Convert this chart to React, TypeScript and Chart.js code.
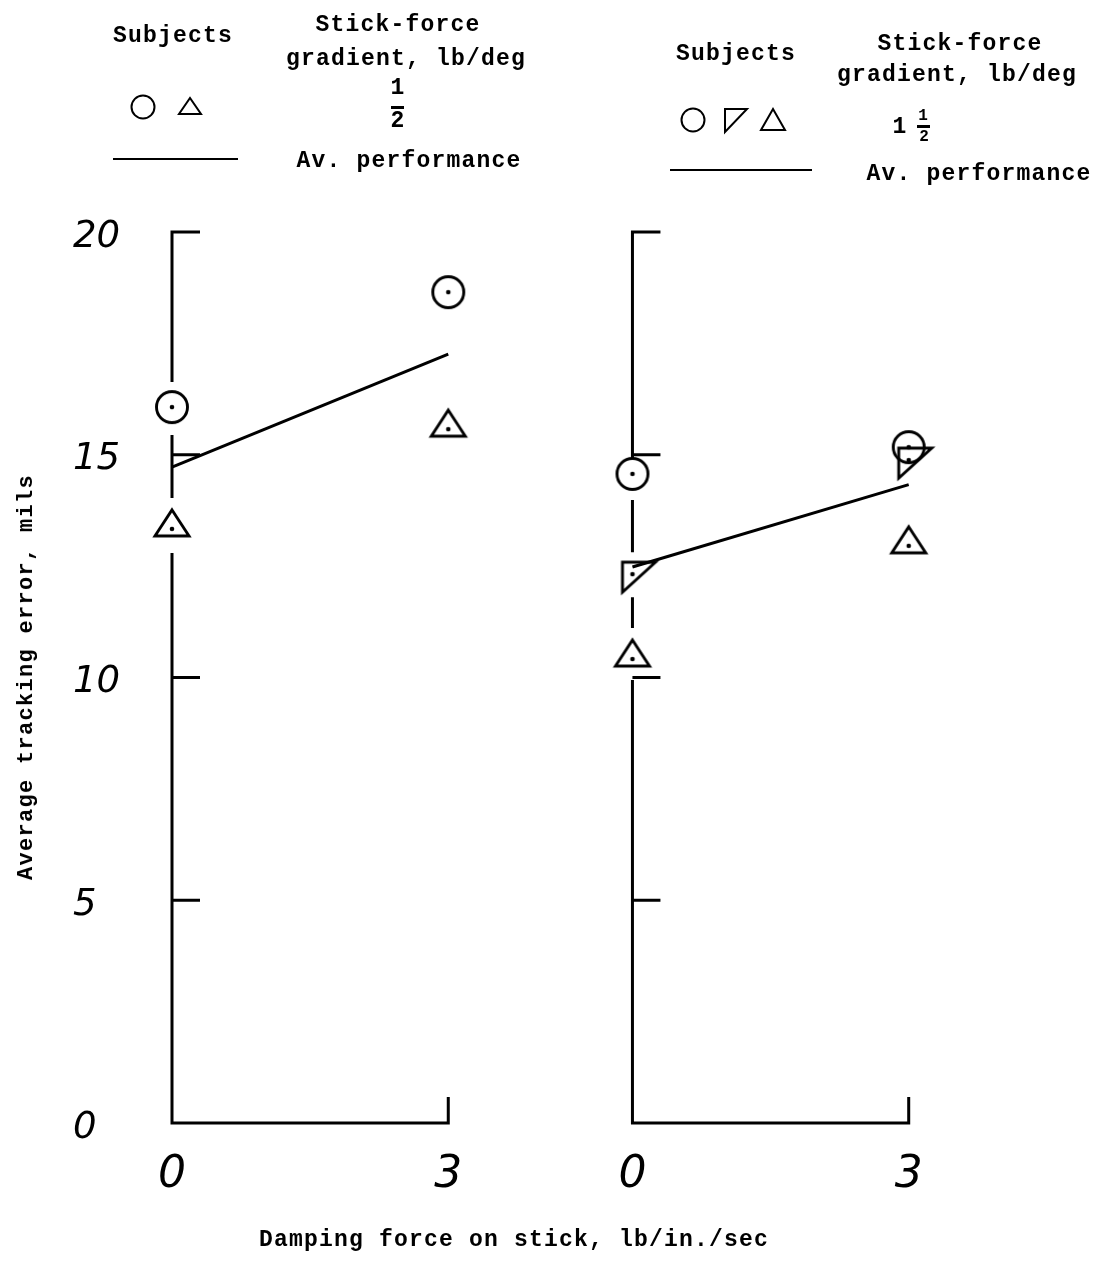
import React, { useEffect, useRef } from 'react';
import { Chart, registerables } from 'chart.js';

Chart.register(...registerables);

// ---- data ----
const DAMPING = [0, 3]; // damping force on stick, lb/in./sec
const PANEL_OFFSETS = [0, 5]; // shared-axis origin of each panel (left: 1/2 lb/deg, right: 1 1/2 lb/deg)
const X_TICK_LABELS = ['0', '3'];
const X_MAX = 9.86;
const Y_MIN = 0;
const Y_MAX = 20;
const Y_STEP = 5;

// left panel (stick-force gradient 1/2 lb/deg)
const LEFT_CIRCLE = [16.07, 18.65];
const LEFT_TRIANGLE = [13.38, 15.62];
const LEFT_AVERAGE = [14.72, 17.26];
// right panel (stick-force gradient 1 1/2 lb/deg)
const RIGHT_CIRCLE = [14.57, 15.17];
const RIGHT_FLAG = [12.32, 14.88];
const RIGHT_TRIANGLE = [10.46, 13.0];
const RIGHT_AVERAGE = [12.48, 14.33];

const Y_TITLE = 'Average tracking error, mils';
const X_TITLE = 'Damping force on stick, lb/in./sec';

const W = 1099;
const H = 1269;

function pts(values: number[], offset: number) {
  return DAMPING.map((d, i) => ({ x: d + offset, y: values[i] }));
}

function makeCanvas(w: number, h: number, draw: (ctx: CanvasRenderingContext2D) => void) {
  const c = document.createElement('canvas');
  c.width = w;
  c.height = h;
  const ctx = c.getContext('2d')!;
  ctx.strokeStyle = '#000';
  ctx.fillStyle = '#000';
  ctx.lineWidth = 2.9;
  ctx.lineJoin = 'miter';
  draw(ctx);
  return c;
}

function circleStyle() {
  return makeCanvas(40, 40, (ctx) => {
    ctx.beginPath();
    ctx.arc(20, 20, 15.5, 0, Math.PI * 2);
    ctx.stroke();
    ctx.beginPath();
    ctx.arc(20, 20, 2.3, 0, Math.PI * 2);
    ctx.fill();
  });
}

function triangleStyle() {
  return makeCanvas(44, 44, (ctx) => {
    ctx.beginPath();
    ctx.moveTo(22, 5);
    ctx.lineTo(39, 31);
    ctx.lineTo(5, 31);
    ctx.closePath();
    ctx.stroke();
    ctx.beginPath();
    ctx.arc(22, 24, 2.3, 0, Math.PI * 2);
    ctx.fill();
  });
}

function flagStyle() {
  return makeCanvas(56, 44, (ctx) => {
    ctx.beginPath();
    ctx.moveTo(18, 10);
    ctx.lineTo(51, 10);
    ctx.lineTo(18, 40);
    ctx.closePath();
    ctx.stroke();
    ctx.beginPath();
    ctx.arc(28, 22, 2.3, 0, Math.PI * 2);
    ctx.fill();
  });
}

const axesPlugin = {
  id: 'handAxes',
  beforeDatasetsDraw(chart: any) {
    const ctx = chart.ctx as CanvasRenderingContext2D;
    const xs = chart.scales.x;
    const ys = chart.scales.y;
    const y0 = ys.getPixelForValue(Y_MIN);
    const yTop = ys.getPixelForValue(Y_MAX);
    ctx.save();
    ctx.strokeStyle = '#000';
    ctx.lineWidth = 3;
    ctx.lineCap = 'butt';
    PANEL_OFFSETS.forEach((off) => {
      const x0 = xs.getPixelForValue(off + DAMPING[0]);
      const x3 = xs.getPixelForValue(off + DAMPING[DAMPING.length - 1]);
      // gaps in the axis where markers sit on it
      const gaps: [number, number][] = [];
      chart.data.datasets.forEach((ds: any, di: number) => {
        if (!ds.gap) return;
        const meta = chart.getDatasetMeta(di);
        ds.data.forEach((p: any, i: number) => {
          if (p.x === off + DAMPING[0]) {
            const py = meta.data[i].y;
            gaps.push([py - ds.gap[0], py + ds.gap[1]]);
          }
        });
      });
      gaps.sort((a, b) => a[0] - b[0]);
      let start = yTop - 1.5;
      ctx.beginPath();
      gaps.forEach(([g0, g1]) => {
        if (g0 > start) {
          ctx.moveTo(x0, start);
          ctx.lineTo(x0, g0);
        }
        start = Math.max(start, g1);
      });
      if (start < y0) {
        ctx.moveTo(x0, start);
        ctx.lineTo(x0, y0 + 1.5);
      }
      // y ticks (pointing right)
      for (let v = Y_MIN + Y_STEP; v <= Y_MAX; v += Y_STEP) {
        const py = ys.getPixelForValue(v);
        ctx.moveTo(x0, py);
        ctx.lineTo(x0 + 28, py);
      }
      // x axis base line and end tick
      ctx.moveTo(x0 - 1.5, y0);
      ctx.lineTo(x3 + 1.5, y0);
      ctx.moveTo(x3, y0);
      ctx.lineTo(x3, y0 - 26);
      ctx.stroke();
    });
    ctx.restore();
  },
};

const mono = "'Liberation Mono', 'DejaVu Sans Mono', monospace";

function Txt(props: { x: number; y: number; children: React.ReactNode; size?: number; spacing?: number }) {
  const { x, y, children, size = 23, spacing = 1.2 } = props;
  return (
    <div
      style={{
        position: 'absolute',
        left: x,
        top: y,
        transform: 'translate(-50%, -50%)',
        fontFamily: mono,
        fontWeight: 'bold',
        fontSize: size,
        letterSpacing: spacing,
        whiteSpace: 'nowrap',
        color: '#000',
        lineHeight: 1,
      }}
    >
      {children}
    </div>
  );
}

export default function App() {
  const ref = useRef<HTMLCanvasElement | null>(null);

  useEffect(() => {
    if (!ref.current) return;
    const circle = circleStyle();
    const tri = triangleStyle();
    const flag = flagStyle();
    const marker = (label: string, values: number[], off: number, style: any, gap: number[]) => ({
      label,
      data: pts(values, off),
      pointStyle: style,
      pointRadius: 18,
      showLine: false,
      clip: false,
      gap,
    });
    const line = (label: string, values: number[], off: number) => ({
      label,
      data: pts(values, off),
      showLine: true,
      pointRadius: 0,
      borderColor: '#000',
      borderWidth: 3,
      clip: false,
    });
    const xTickValues: number[] = [];
    PANEL_OFFSETS.forEach((off) => DAMPING.forEach((d) => xTickValues.push(off + d)));

    const chart = new Chart(ref.current, {
      type: 'scatter',
      data: {
        datasets: [
          line('Av. performance (1/2)', LEFT_AVERAGE, PANEL_OFFSETS[0]),
          marker('Subject O (1/2)', LEFT_CIRCLE, PANEL_OFFSETS[0], circle, [25, 28]),
          marker('Subject Δ (1/2)', LEFT_TRIANGLE, PANEL_OFFSETS[0], tri, [29, 26]),
          line('Av. performance (1 1/2)', RIGHT_AVERAGE, PANEL_OFFSETS[1]),
          marker('Subject O (1 1/2)', RIGHT_CIRCLE, PANEL_OFFSETS[1], circle, [16, 26]),
          marker('Subject ◸ (1 1/2)', RIGHT_FLAG, PANEL_OFFSETS[1], flag, [22, 23]),
          marker('Subject Δ (1 1/2)', RIGHT_TRIANGLE, PANEL_OFFSETS[1], tri, [29, 23]),
        ] as any,
      },
      options: {
        responsive: false,
        animation: false,
        events: [],
        layout: { padding: { left: 73, top: 232, right: 7, bottom: 0 } },
        plugins: { legend: { display: false }, tooltip: { enabled: false } },
        scales: {
          x: {
            type: 'linear',
            min: 0,
            max: X_MAX,
            grid: { display: false, drawTicks: false },
            border: { display: false },
            afterBuildTicks: (scale: any) => {
              scale.ticks = xTickValues.map((v) => ({ value: v }));
            },
            afterFit: (scale: any) => {
              scale.height = 146;
              scale.paddingLeft = 0;
              scale.paddingRight = 0;
            },
            ticks: {
              autoSkip: false,
              maxRotation: 0,
              padding: 26,
              color: '#000',
              font: { family: "'DejaVu Sans', sans-serif", style: 'italic', size: 44 },
              callback: (_v: any, i: number) => X_TICK_LABELS[i % X_TICK_LABELS.length],
            },
          },
          y: {
            type: 'linear',
            min: Y_MIN,
            max: Y_MAX,
            grid: { display: false, drawTicks: false },
            border: { display: false },
            afterFit: (scale: any) => {
              scale.width = 99;
              scale.paddingTop = 0;
              scale.paddingBottom = 0;
            },
            ticks: {
              stepSize: Y_STEP,
              crossAlign: 'far',
              padding: 0,
              labelOffset: 5,
              color: '#000',
              font: { family: "'DejaVu Sans', sans-serif", style: 'italic', size: 37 },
            },
          },
        },
      } as any,
      plugins: [axesPlugin],
    });
    return () => chart.destroy();
  }, []);

  return (
    <div style={{ position: 'absolute', left: 0, top: 0, width: W, height: H, background: '#fff', overflow: 'hidden' }}>
      <canvas ref={ref} width={W} height={H} style={{ position: 'absolute', left: 0, top: 0, width: W, height: H }} />

      {/* left legend */}
      <Txt x={173} y={36}>Subjects</Txt>
      <Txt x={398} y={25}>Stick-force</Txt>
      <Txt x={406} y={59}>gradient, lb/deg</Txt>
      <Txt x={398} y={88}>1</Txt>
      <div style={{ position: 'absolute', left: 391, top: 106, width: 13, height: 3, background: '#000' }} />
      <Txt x={398} y={121}>2</Txt>
      <svg style={{ position: 'absolute', left: 0, top: 0 }} width={W} height={200}>
        <circle cx={143} cy={107} r={11.5} fill="none" stroke="#000" strokeWidth={2} />
        <polygon points="179,114 201,114 190,98" fill="none" stroke="#000" strokeWidth={2} />
        <line x1={113} y1={159} x2={238} y2={159} stroke="#000" strokeWidth={2.2} />
        <circle cx={693} cy={120} r={11.5} fill="none" stroke="#000" strokeWidth={2} />
        <polygon points="725,109 747,109 725,132" fill="none" stroke="#000" strokeWidth={2} />
        <polygon points="761,130 785,130 773,109" fill="none" stroke="#000" strokeWidth={2} />
        <line x1={670} y1={170} x2={812} y2={170} stroke="#000" strokeWidth={2.2} />
      </svg>
      <Txt x={409} y={161}>Av. performance</Txt>

      {/* right legend */}
      <Txt x={736} y={54}>Subjects</Txt>
      <Txt x={960} y={44}>Stick-force</Txt>
      <Txt x={957} y={75}>gradient, lb/deg</Txt>
      <Txt x={900} y={127}>1</Txt>
      <Txt x={923} y={116} size={16} spacing={0}>1</Txt>
      <div style={{ position: 'absolute', left: 917, top: 125, width: 13, height: 2.5, background: '#000' }} />
      <Txt x={924} y={137} size={16} spacing={0}>2</Txt>
      <Txt x={979} y={174}>Av. performance</Txt>

      {/* axis titles */}
      <div
        style={{
          position: 'absolute',
          left: 27,
          top: 677,
          transform: 'translate(-50%, -50%) rotate(-90deg)',
          fontFamily: mono,
          fontWeight: 'bold',
          fontSize: 22,
          letterSpacing: 1.3,
          whiteSpace: 'nowrap',
          lineHeight: 1,
        }}
      >
        {Y_TITLE}
      </div>
      <Txt x={514} y={1240}>{X_TITLE}</Txt>
    </div>
  );
}
